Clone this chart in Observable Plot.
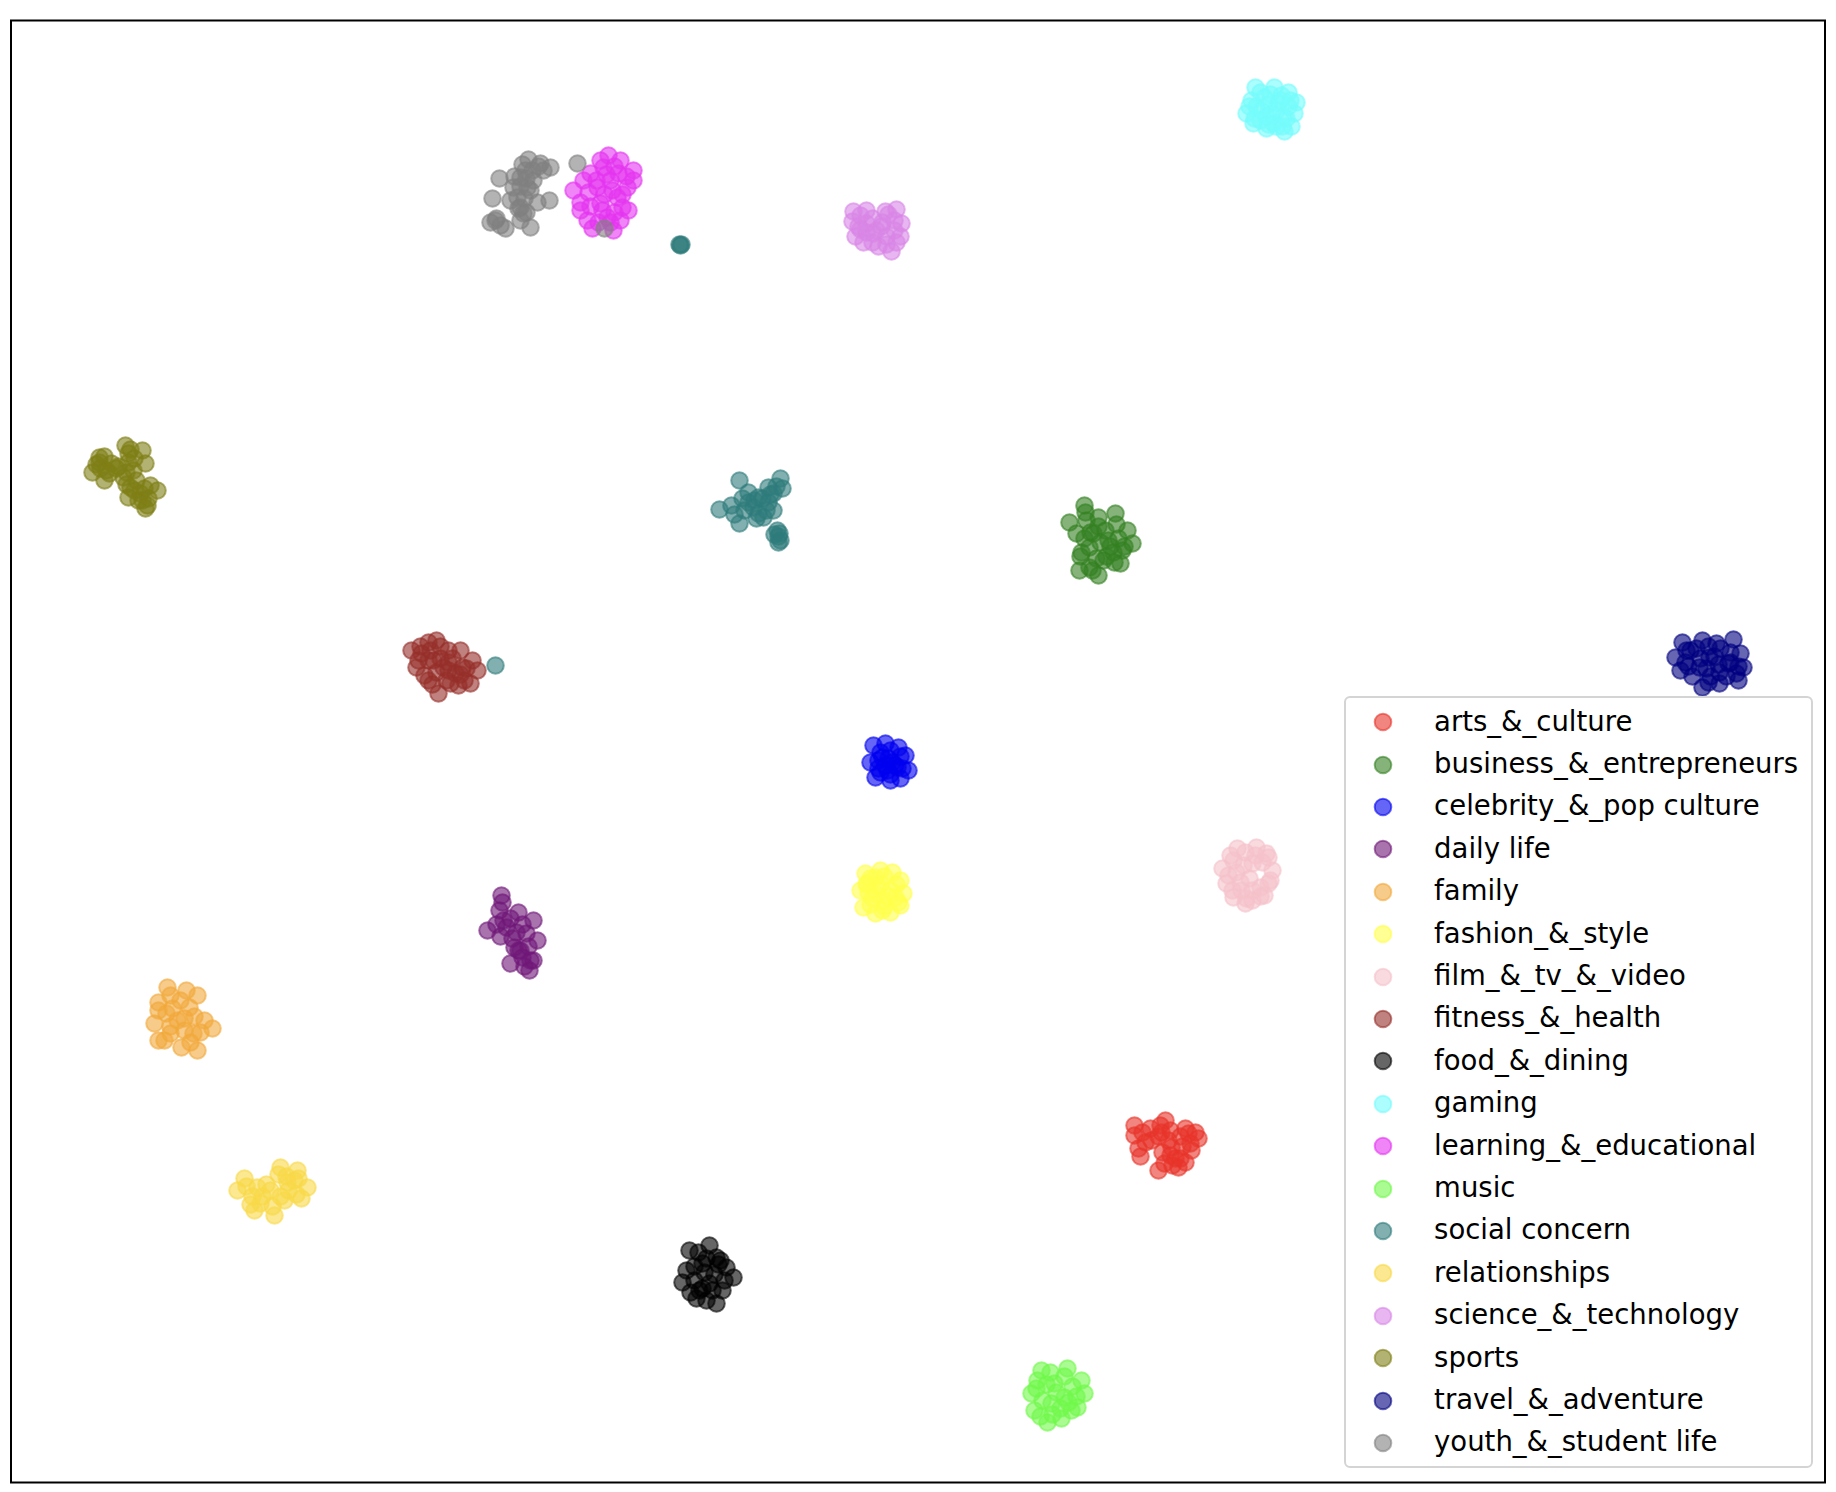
<!DOCTYPE html>
<html><head><meta charset="utf-8">
<script src="https://cdn.jsdelivr.net/npm/d3@7"></script>
<script src="https://cdn.jsdelivr.net/npm/@observablehq/plot@0.6"></script>
<style>
html,body{margin:0;padding:0;background:#fff;}
#wrap{position:relative;width:1836px;height:1492px;}
#legend{position:absolute;left:1344px;top:696px;width:469px;height:772px;box-sizing:border-box;border:2.2px solid #d4d4d4;border-radius:6px;background:rgba(255,255,255,0.8);font-family:"DejaVu Sans";font-size:27.5px;color:#000;}
.row{position:absolute;left:0;width:100%;height:42.4px;}
.row svg{position:absolute;left:26.1px;top:10.2px;}
.row span{position:absolute;left:88.1px;top:-1.5px;line-height:42.4px;white-space:nowrap;}
</style></head>
<body><div id="wrap"><div id="chart"></div><div id="legend"></div></div>
<script>
const categories = ["arts_&_culture","business_&_entrepreneurs","celebrity_&_pop culture","daily life","family","fashion_&_style","film_&_tv_&_video","fitness_&_health","food_&_dining","gaming","learning_&_educational","music","social concern","relationships","science_&_technology","sports","travel_&_adventure","youth_&_student life"];
const colors = ["#e8332a","#338021","#0000f0","#701878","#f2a93b","#ffff4d","#f5c2ca","#962e29","#000000","#75fbfb","#e533f0","#6ff94a","#2f7c7c","#f9d847","#d985e6","#7f7f15","#000080","#808080"];

const artsX = [113.4,116.5,118.8,119.8,119.1,118.5,115.8,113.8,113.4,115.1,117.1,117.5,116.1,117.8,114.2,115.0,116.0,117.0,118.0,119.0,118.2,116.8,115.8,114.5,116.2,117.0,118.0,117.2,116.4,119.5,118.5,114.0];
const artsY = [112.5,112.0,113.3,113.8,115.0,116.2,117.0,114.8,113.5,114.0,114.7,115.8,113.2,116.7,113.2,112.8,112.5,113.0,113.6,114.3,114.6,114.0,113.6,114.2,115.2,115.5,115.8,116.5,116.3,113.2,112.8,115.6];
const businessX = [108.4,111.5,106.9,109.8,112.7,113.2,112.0,109.8,107.9,108.1,107.6,109.3,110.8,111.3,108.9,110.3,108.9,112.2,108.6,109.0,108.4,109.8,110.5,110.0,111.0,111.8,110.6,109.6,109.2,108.0,111.6,112.4,111.4,108.5];
const businessY = [50.5,51.3,52.2,51.7,53.0,54.3,56.3,57.5,57.0,55.2,53.3,53.3,54.0,55.2,54.7,56.0,56.7,55.0,52.0,53.2,53.8,52.6,53.0,54.2,54.6,53.8,55.6,55.8,57.0,55.6,52.4,54.6,56.2,51.2];
const celebrityX = [87.3,88.5,89.8,90.5,90.8,90.0,89.0,87.5,87.0,88.2,89.2,88.7,89.7,87.8,88.0,89.0,90.0,89.5,88.5,87.8,89.0,90.2,88.0,88.8];
const celebrityY = [74.5,74.3,74.7,75.5,77.0,77.8,78.0,77.7,76.2,75.7,76.2,77.0,76.7,76.8,75.2,75.0,75.6,76.5,76.5,76.0,77.4,76.8,77.2,75.8];
const dailyX = [50.1,49.9,51.8,53.3,48.7,50.6,52.6,53.7,51.4,52.2,53.3,52.9,51.0,50.3,51.8,50.2,51.0,52.2,51.6,50.0,52.8,52.0,51.2,53.0,52.4,49.6];
const dailyY = [89.5,91.0,91.2,92.0,93.0,92.7,93.3,94.0,94.7,95.7,96.0,97.0,96.3,92.0,95.0,90.2,91.8,92.4,93.2,93.6,94.6,95.0,93.8,96.0,96.6,92.4];
const familyX = [16.7,19.7,15.8,18.9,16.6,20.4,21.2,19.3,15.8,18.1,19.7,15.4,17.7,17.0,17.0,18.0,17.2,19.4,18.4,17.0,18.4,19.0,16.4,20.0,15.8,18.6];
const familyY = [98.7,99.5,100.2,100.7,101.3,102.0,102.8,103.3,104.0,104.7,105.0,102.3,102.0,103.3,99.5,100.0,100.8,101.6,101.8,102.6,103.0,104.2,104.0,103.2,101.0,99.0];
const fashionX = [86.5,88.0,89.2,90.0,90.3,90.0,89.0,87.5,86.3,86.0,86.7,87.8,89.0,88.3,87.2,89.5,87.5,87.0,88.4,89.6,88.0,86.8,87.6,88.8,89.8,88.4,87.0,88.2,86.6];
const fashionY = [87.3,87.0,87.2,88.0,89.3,90.5,91.2,91.3,90.7,89.0,88.3,88.7,89.0,90.0,89.8,89.7,87.7,87.8,87.6,88.4,88.4,89.2,89.4,89.6,90.2,90.6,90.4,91.0,88.4];
const filmX = [123.7,125.6,126.8,127.2,126.8,126.4,124.5,123.3,122.6,122.2,123.3,125.2,124.9,124.1,126.0,125.2,124.5,123.0,125.5,126.2,122.8,123.6,124.0,123.2,125.2,126.0,124.6,127.0,126.6,124.3];
const filmY = [84.8,84.7,85.7,87.0,88.3,89.5,90.3,89.7,88.3,86.8,86.0,86.3,87.8,89.0,88.7,90.0,85.2,85.5,85.5,86.2,87.5,87.2,88.2,89.0,89.0,89.6,89.8,88.0,85.3,86.5];
const fitnessX = [41.1,42.8,43.6,44.8,46.0,47.2,47.7,47.0,45.8,43.8,42.8,41.6,44.3,45.5,43.3,42.1,46.2,42.4,45.0,42.0,43.0,44.0,42.8,44.0,45.2,46.6,46.0,44.8,43.6,44.6,46.4,43.2,41.8,44.8];
const fitnessY = [65.0,64.2,64.0,65.0,65.0,66.0,67.0,68.3,68.5,69.3,68.0,66.7,66.7,67.3,66.0,65.3,66.7,67.5,68.3,64.6,65.0,64.6,66.0,65.8,65.8,66.8,67.4,67.0,67.2,68.0,68.0,68.4,66.0,66.2];
const foodX = [68.9,70.9,72.6,73.3,72.2,71.6,69.6,68.2,68.6,70.2,70.9,69.9,71.6,69.8,70.6,71.8,69.4,70.4,71.4,72.4,69.4,70.2,71.2,70.6,72.0,69.0];
const foodY = [125.0,124.5,126.7,127.7,129.0,130.3,129.8,128.2,127.0,126.3,128.3,129.0,125.7,125.2,125.8,126.4,126.6,127.2,127.4,128.0,128.0,128.8,129.0,130.0,126.0,129.2];
const gamingX = [125.5,127.4,128.8,129.6,129.4,129.1,128.4,126.6,125.3,124.6,125.1,126.4,127.8,127.1,126.1,128.3,128.8,127.3,126.0,128.1,126.0,127.0,128.0,126.8,125.6,127.6,128.6,126.6,125.4,127.6,128.2,126.8,129.0,124.9];
const gamingY = [8.7,8.7,9.2,10.2,11.3,12.6,13.1,12.8,12.3,11.3,10.0,9.7,10.3,11.3,11.0,11.6,10.6,12.3,12.0,9.5,9.2,9.4,10.0,10.4,10.6,11.0,11.8,11.6,11.8,12.6,12.6,12.4,10.0,10.6];
const learningX = [60.8,62.0,63.3,63.3,59.0,57.3,58.0,58.7,59.2,60.7,62.0,62.2,61.7,59.7,61.0,60.3,58.3,61.3,62.7,60.0,61.8,61.4,62.6,60.6,59.6,61.2,62.2,60.4,58.8,59.0,60.2,61.4,59.8,61.0,60.0,62.8,58.0];
const learningY = [15.5,16.0,17.0,18.0,17.3,19.0,20.2,22.0,22.8,21.7,22.0,20.7,19.7,18.7,18.0,16.7,18.0,23.0,18.7,20.3,17.3,16.6,17.6,17.4,18.0,19.0,19.4,19.4,19.2,20.6,21.0,21.2,22.2,22.2,16.0,21.0,21.0];
const musicX = [104.1,106.7,108.1,108.4,107.7,106.1,104.7,103.4,103.1,103.7,105.4,106.4,105.1,107.1,105.0,104.6,106.4,107.2,105.6,104.2,106.8,106.0,105.2,104.0,107.6,103.6];
const musicY = [137.0,136.8,138.0,139.3,140.7,141.8,142.2,141.0,139.3,138.0,138.3,139.7,140.3,141.0,137.2,138.4,137.6,138.6,139.2,140.0,140.2,140.8,141.4,141.6,139.6,138.8];
const socialX = [73.9,78.0,78.2,76.8,75.8,74.8,74.4,71.9,73.1,73.9,77.3,76.3,77.7,78.0,75.3,77.3,75.8,74.8,75.4,76.2,76.8,77.0,77.6,74.2,75.6,76.6,73.4,77.8,77.4,77.9,77.8,49.5,67.9,68.1,68.0];
const socialY = [48.0,47.8,48.8,48.7,49.7,50.2,51.0,50.9,50.5,52.3,51.0,51.7,53.0,54.0,50.7,49.3,51.3,49.2,50.0,49.8,50.2,49.4,48.6,49.8,51.8,51.0,51.4,53.6,53.4,53.3,54.2,66.5,24.4,24.4,24.5];
const relationshipsX = [24.4,23.7,25.7,28.0,29.7,30.7,30.1,28.4,26.0,27.4,25.4,27.0,28.7,24.6,25.2,26.2,27.8,28.6,29.4,28.8,29.6,28.0,27.2,26.6,25.0,29.8];
const relationshipsY = [117.8,119.0,118.7,116.7,117.0,118.7,119.8,120.0,120.3,121.5,121.0,119.0,118.2,118.6,119.6,119.6,117.4,117.6,118.0,119.0,119.4,119.6,120.6,118.4,120.4,117.8];
const scienceX = [85.3,86.6,88.5,89.6,90.1,90.0,89.1,87.8,86.3,85.5,85.2,86.6,88.1,88.6,87.3,86.0,86.0,87.2,88.8,89.4,88.2,89.4,87.6,86.6,88.6,87.2,89.6,85.8];
const scienceY = [21.1,21.0,21.1,20.9,22.3,23.6,25.1,24.6,24.2,23.6,22.1,22.3,22.6,23.6,23.3,22.9,21.5,21.8,21.4,22.0,22.2,23.0,23.0,23.2,24.4,24.2,24.2,22.6];
const sportsX = [9.9,9.2,10.4,11.1,12.5,12.8,14.2,14.5,13.3,12.3,13.0,14.0,15.7,14.7,13.8,11.6,10.9,12.8,15.0,9.9,14.5,10.0,9.6,10.6,12.8,13.4,12.6,13.6,12.6,13.4,14.4,14.2,14.8,10.4,13.0,11.8];
const sportsY = [46.2,47.2,48.0,46.3,44.5,45.3,45.0,46.3,47.0,47.7,48.7,49.3,49.0,50.5,50.0,46.8,47.3,49.7,48.5,45.7,50.8,46.8,46.4,47.0,46.2,45.8,47.2,48.0,48.4,49.0,48.8,50.0,49.8,45.6,44.9,46.6];
const travelX = [168.2,170.2,171.6,173.3,174.0,174.3,173.8,171.9,170.2,168.0,167.5,169.0,170.9,172.8,169.9,171.9,168.5,173.6,168.6,169.6,170.8,172.0,173.0,171.4,170.0,168.8,170.6,171.8,173.0,172.6,171.0,170.8,169.2,173.8];
const travelY = [64.2,64.0,64.3,63.9,65.3,66.7,68.0,68.3,68.7,67.0,65.7,65.0,65.7,66.3,66.7,67.2,66.2,67.3,65.0,64.8,64.6,64.8,65.2,65.6,65.8,66.6,66.8,66.4,66.2,67.6,67.6,68.2,67.6,66.6];
const youthX = [52.8,54.0,55.0,54.3,49.9,52.0,52.7,51.7,49.2,51.0,53.7,54.9,52.3,49.5,50.5,53.0,52.0,52.5,53.3,51.3,57.7,60.4,49.0,50.0,52.2,53.2,52.6,52.0,53.0,52.4,51.8,52.6,52.0,49.6,53.8,51.4];
const youthY = [15.9,16.3,16.7,17.0,17.8,17.7,18.7,19.7,19.8,20.0,20.2,20.0,21.3,22.0,22.8,22.7,20.7,17.0,18.0,18.7,16.3,22.8,22.2,22.5,16.4,17.0,17.8,18.6,19.0,19.8,20.8,21.2,22.0,21.8,16.6,17.6];

const seriesX = [artsX,businessX,celebrityX,dailyX,familyX,fashionX,filmX,fitnessX,foodX,gamingX,learningX,musicX,socialX,relationshipsX,scienceX,sportsX,travelX,youthX];
const seriesY = [artsY,businessY,celebrityY,dailyY,familyY,fashionY,filmY,fitnessY,foodY,gamingY,learningY,musicY,socialY,relationshipsY,scienceY,sportsY,travelY,youthY];

const points = [];
categories.forEach((c, i) => {
  seriesX[i].forEach((x, j) => points.push({category: c, x, y: seriesY[i][j]}));
});

const chart = Plot.plot({
  width: 1836,
  height: 1492,
  marginLeft: 10.5,
  marginRight: 11.5,
  marginTop: 20,
  marginBottom: 10,
  x: {domain: [1.05, 182.45], axis: null},
  y: {domain: [148.2, 2.0], axis: null},
  color: {domain: categories, range: colors},
  marks: [
    Plot.dot(points, {x: "x", y: "y", r: 8.3, fill: "category", stroke: "category", fillOpacity: 0.6, strokeOpacity: 0.6, strokeWidth: 2}),
    Plot.frame({stroke: "#000", strokeWidth: 2})
  ]
});
document.getElementById("chart").appendChild(chart);

const legend = document.getElementById("legend");
categories.forEach((c, i) => {
  const row = document.createElement("div");
  row.className = "row";
  row.style.top = (3.0 + 42.4 * i) + "px";
  row.innerHTML = `<svg width="22" height="22"><circle cx="11" cy="11" r="8.3" fill="${colors[i]}" fill-opacity="0.6" stroke="${colors[i]}" stroke-opacity="0.6" stroke-width="2"/></svg>`;
  const span = document.createElement("span");
  span.textContent = c;
  row.appendChild(span);
  legend.appendChild(row);
});
</script>
</body></html>
